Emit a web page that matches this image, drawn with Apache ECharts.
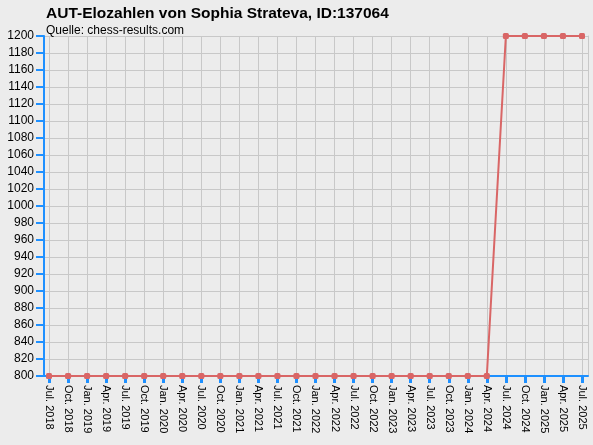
<!DOCTYPE html>
<html>
<head>
<meta charset="utf-8">
<script src="https://cdn.jsdelivr.net/npm/echarts@6/dist/echarts.min.js"></script>
<style>html,body{margin:0;padding:0;background:#ececec;}#c{width:593px;height:445px;}</style>
</head>
<body>
<div id="c"></div>
<script>
var categories = ["Jul. 2018","Oct. 2018","Jan. 2019","Apr. 2019","Jul. 2019","Oct. 2019","Jan. 2020","Apr. 2020","Jul. 2020","Oct. 2020","Jan. 2021","Apr. 2021","Jul. 2021","Oct. 2021","Jan. 2022","Apr. 2022","Jul. 2022","Oct. 2022","Jan. 2023","Apr. 2023","Jul. 2023","Oct. 2023","Jan. 2024","Apr. 2024","Jul. 2024","Oct. 2024","Jan. 2025","Apr. 2025","Jul. 2025"];
var elo = [800,800,800,800,800,800,800,800,800,800,800,800,800,800,800,800,800,800,800,800,800,800,800,800,1200,1200,1200,1200,1200];
var yMin = 800, yMax = 1200, yStep = 20;
var titleText = "AUT-Elozahlen von Sophia Strateva, ID:137064";
var subText = "Quelle: chess-results.com";

var BLUE = "#1e90ff", GRID = "#c8c8c8", FONT = "Liberation Sans, Arial, sans-serif";
var chart = echarts.init(document.getElementById('c'));
chart.setOption({
  backgroundColor: "#ececec",
  animation: false,
  title: {
    text: titleText, subtext: subText, left: 41, top: 1, itemGap: 3,
    textStyle: {fontFamily: FONT, fontSize: 15.5, fontWeight: "bold", color: "#000"},
    subtextStyle: {fontFamily: FONT, fontSize: 12, color: "#000"}
  },
  grid: [
    {left: 49, right: 11, top: 36, bottom: 69, containLabel: false},
    {left: 44, right: 5, top: 36, bottom: 69, containLabel: false}
  ],
  xAxis: [
    {type: "category", gridIndex: 0, data: categories, boundaryGap: false,
     axisLine: {show: true, lineStyle: {color: BLUE, width: 2}},
     axisTick: {show: true, interval: 0, length: 7, lineStyle: {color: BLUE, width: 3}},
     axisLabel: {rotate: -90, interval: 0, fontFamily: FONT, fontSize: 11, color: "#000", margin: 9},
     splitLine: {show: true, lineStyle: {color: GRID, width: 1}}},
    {type: "value", gridIndex: 1, min: 0, max: 1,
     axisLine: {show: true, onZero: false, lineStyle: {color: BLUE, width: 2}},
     axisTick: {show: false}, axisLabel: {show: false}, splitLine: {show: false}}
  ],
  yAxis: [
    {type: "value", gridIndex: 0, min: yMin, max: yMax, interval: yStep, show: false, splitLine: {show: false}},
    {type: "value", gridIndex: 1, min: yMin, max: yMax, interval: yStep, position: "left",
     axisLine: {show: true, lineStyle: {color: BLUE, width: 2}},
     axisTick: {show: true, length: 8, lineStyle: {color: BLUE, width: 2}},
     axisLabel: {fontFamily: FONT, fontSize: 12, color: "#000", margin: 10, formatter: function (v) { return String(v); }},
     splitLine: {show: true, lineStyle: {color: GRID, width: 1}}},
    {type: "value", gridIndex: 1, min: yMin, max: yMax, position: "right",
     axisLine: {show: true, lineStyle: {color: GRID, width: 1}},
     axisTick: {show: false}, axisLabel: {show: false}, splitLine: {show: false}}
  ],
  series: [{
    type: "line", xAxisIndex: 0, yAxisIndex: 0, data: elo, z: 6,
    symbol: "roundRect", symbolSize: 6, showAllSymbol: true,
    lineStyle: {color: "#d96666", width: 2},
    itemStyle: {color: "#d96666"}
  }]
});
</script>
</body>
</html>
